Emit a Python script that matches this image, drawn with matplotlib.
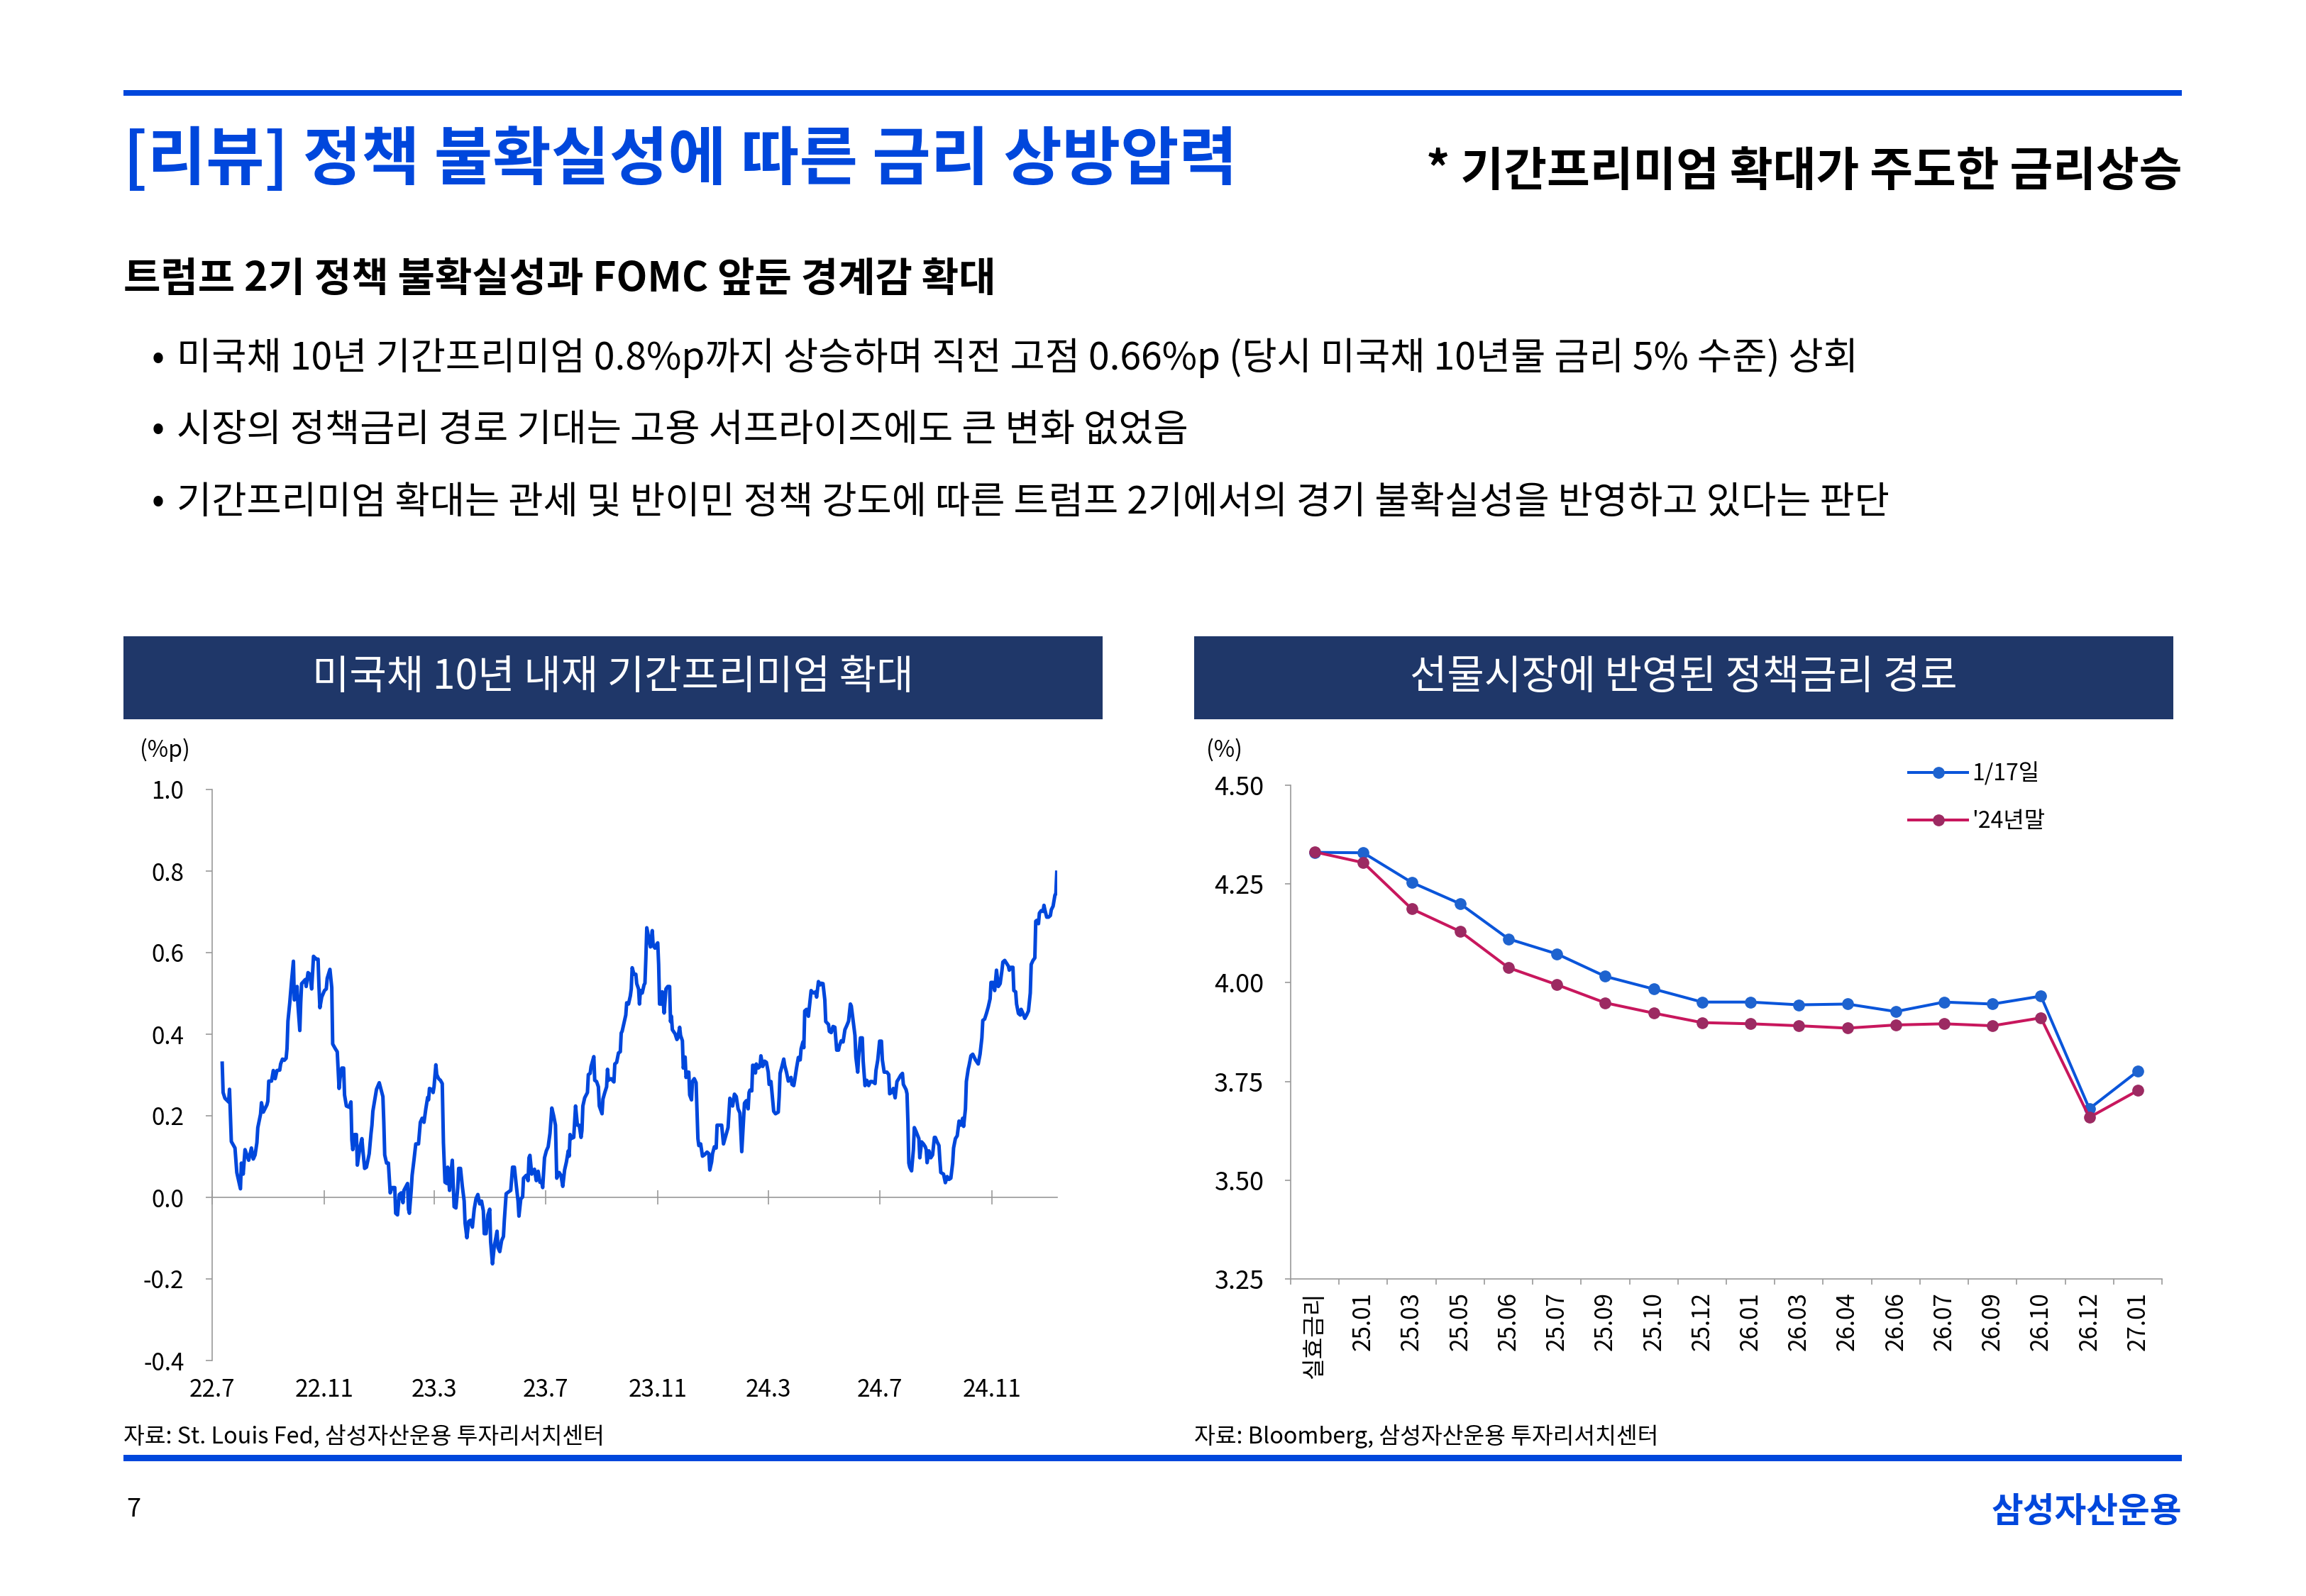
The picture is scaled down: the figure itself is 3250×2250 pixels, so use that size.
import numpy as np
import matplotlib
matplotlib.use("Agg")
import matplotlib.pyplot as plt
import matplotlib.dates as mdates
from matplotlib.patches import Rectangle
from matplotlib.ticker import FixedLocator, FuncFormatter, NullFormatter

plt.rcParams['font.family'] = ['Noto Sans CJK KR', 'DejaVu Sans']

# ---- data: 10y term premium (%p), x = days since 2022-07-01
tp_start = np.datetime64('2022-07-01')
tp_day = [11, 12, 14, 18, 19, 21, 25, 27, 31, 32, 34, 36, 40, 43, 45, 47, 49, 50, 53, 54,
          56, 60, 61, 62, 65, 67, 69, 71, 74, 75, 77, 79, 81, 82, 83, 85, 87, 89, 90, 91,
          93, 94, 96, 97, 98, 102, 103, 105, 107, 109, 111, 114, 116, 117, 118, 120, 123, 125, 126, 129,
          131, 132, 135, 137, 139, 140, 142, 144, 145, 147, 150, 152, 153, 154, 156, 158, 159, 162, 164, 165,
          167, 169, 172, 174, 175, 176, 180, 183,
          187, 188, 189, 191, 193, 195, 197, 200, 201, 203, 205, 207, 209, 210, 214, 215, 216, 218, 219, 221,
          223, 226, 228, 230, 232, 234, 236, 237, 238, 241, 242, 243, 245, 246, 248, 250, 252, 252.6, 253.3, 255,
          257, 258, 260, 261, 263, 265, 267, 269, 270, 272, 274, 276, 277, 279, 281, 283, 285, 287, 289, 291,
          293, 295, 297, 298, 300, 302, 304, 305, 307, 309, 311, 312, 313, 315, 317, 319, 320, 322, 325, 327,
          329, 331, 333, 335, 336, 338, 340, 341, 344, 346, 347, 348, 350, 353, 355, 357, 359, 361, 362, 364,
          366, 368, 370, 372, 374, 376, 377.4,
          380, 382, 384, 386, 388, 390, 391, 392, 393, 396, 397, 398, 400, 402, 404, 405, 406, 408, 411, 412,
          414, 415, 418, 419, 421, 423, 424, 427, 428, 430, 432, 433, 434, 437, 440, 441, 443, 445, 447, 448,
          449, 451, 453, 454, 456, 458, 459, 460, 462, 464, 465, 467, 468, 469, 471, 473, 474, 475, 476, 478,
          480, 482, 483, 485, 487, 488, 489, 490, 492, 493, 495, 497, 499, 501, 502, 503, 504, 507, 509, 510,
          512, 513, 515, 516, 518, 519, 521, 522, 523, 525, 526, 528, 530, 531, 532, 533, 535, 537, 539, 542,
          544, 545, 547, 548, 550, 552, 553, 555, 558,
          560, 565, 567, 569, 570, 572, 574, 576, 578, 580, 583, 585, 587, 588, 589, 591, 592, 594, 595, 596,
          598, 600, 601, 603, 605, 607, 609, 610, 612, 614, 615, 617, 620, 621, 622, 624, 626, 627, 629, 631,
          633, 634, 635, 637, 638, 640, 642, 644, 645, 647, 648, 649, 651, 653, 655, 656, 657, 659, 661, 662,
          664, 666, 667, 669, 671, 672, 675, 676, 678, 680, 682, 684, 686, 687, 689, 691, 693, 695, 697, 699,
          700, 701, 704, 705, 707, 708, 710, 712, 713, 715, 717, 719, 721, 723, 726, 727, 729, 731, 733, 734,
          736, 739, 741, 742, 744, 746, 748, 750,
          752, 754, 756, 757, 760, 761, 762, 763, 764, 766, 768, 769, 771, 774, 775, 777, 779, 781, 782, 783,
          785, 787, 789, 791, 792, 794, 796, 797, 798, 801, 803, 805, 807, 809, 811, 812, 814, 816, 818, 820,
          822, 823, 825, 826, 828, 829, 831, 833, 836, 839, 841, 843, 844, 846, 848, 850, 852, 853, 855, 857,
          859, 861, 863, 865, 866, 868, 870, 872, 873, 875, 877, 878, 880, 881, 883, 885, 886, 888, 890, 892,
          894, 896, 897, 899, 901, 902, 903, 905, 906, 908, 910, 911, 912, 914, 916, 918, 919, 921, 923, 924,
          925]
tp_val = [.329, .257, .243, .234, .265, .137, .121, .061, .021, .084, .057, .117, .091, .121, .094, .104, .134, .171, .204, .232,
          .209, .227, .236, .285, .285, .311, .291, .311, .312, .327, .339, .336, .341, .365, .432, .477, .531, .579, .484, .487,
          .517, .471, .409, .477, .524, .534, .517, .551, .547, .511, .591, .584, .584, .517, .465, .491, .507, .511, .537, .559,
          .514, .376, .364, .357, .267, .291, .317, .317, .251, .224, .221, .234, .141, .117, .154, .154, .079, .124, .144, .117,
          .071, .074, .107, .157, .177, .211, .265, .281,
          .247, .184, .104, .084, .084, .011, .024, .024, -.039, -.043, .007, .011, -.013, .017, .034, -.029, -.039, .017, .054, .091,
          .131, .131, .184, .194, .184, .217, .245, .239, .267, .264, .257, .271, .325, .301, .291, .287, .279, .211, .134, .037,
          .034, .074, .017, .047, .091, -.023, -.026, .024, .071, .071, .027, -.009, -.063, -.099, -.059, -.056, -.073, -.029, -.003, .007,
          -.016, -.009, -.033, -.089, -.089, -.043, -.029, -.109, -.163, -.119, -.096, -.083, -.123, -.133, -.106, -.096, -.056, .009, .014, .017,
          .074, .074, .031, -.009, -.046, -.004, .001, .047, .054, .041, .097, .103, .057, .069, .041, .064, .037, .037, .024, .097,
          .114, .124, .157, .219, .200, .177, .047,
          .061, .054, .027, .067, .087, .114, .101, .154, .144, .147, .184, .224, .177, .177, .147, .164, .224, .244, .257, .301,
          .304, .321, .345, .287, .284, .271, .224, .205, .241, .257, .271, .314, .287, .291, .283, .327, .331, .354, .357, .403,
          .407, .427, .447, .477, .474, .494, .511, .563, .547, .547, .524, .511, .474, .507, .501, .521, .525, .587, .661, .637,
          .614, .654, .617, .611, .621, .624, .571, .474, .474, .504, .452, .511, .517, .517, .431, .444, .411, .401, .387, .391,
          .417, .397, .384, .317, .344, .294, .307, .307, .251, .239, .284, .291, .281, .211, .144, .127, .131, .101, .104, .111,
          .107, .067, .087, .107, .124, .121, .177, .177, .177,
          .131, .171, .243, .231, .224, .253, .247, .217, .207, .112, .231, .237, .217, .257, .263, .261, .324, .323, .305, .327,
          .317, .321, .347, .321, .334, .331, .307, .277, .284, .234, .211, .205, .209, .247, .304, .321, .339, .324, .307, .285,
          .291, .294, .277, .274, .287, .317, .343, .337, .364, .381, .367, .457, .461, .444, .487, .507, .504, .501, .504, .491,
          .529, .521, .525, .524, .484, .431, .424, .407, .404, .419, .417, .361, .361, .372, .384, .381, .411, .421, .432, .474,
          .469, .451, .397, .344, .307, .344, .391, .391, .334, .274, .287, .274, .284, .284, .279, .311, .337, .383, .383, .337,
          .307, .307, .301, .254, .257, .267, .244, .284,
          .291, .299, .304, .277, .264, .254, .184, .084, .074, .065, .117, .171, .161, .144, .097, .136, .131, .124, .117, .085,
          .114, .097, .104, .147, .147, .136, .127, .091, .061, .057, .036, .051, .044, .047, .084, .121, .144, .151, .187, .177,
          .194, .174, .217, .284, .314, .324, .347, .351, .337, .327, .351, .391, .434, .437, .451, .467, .487, .527, .527, .507,
          .557, .517, .524, .557, .577, .581, .574, .567, .557, .564, .564, .507, .504, .474, .451, .447, .461, .451, .439, .447,
          .457, .501, .571, .581, .587, .677, .679, .671, .697, .703, .701, .716, .705, .687, .687, .691, .705, .714, .741, .744,
          .797]
tp_xmax_day = 925.5
tp_yticks = [-0.4, -0.2, 0.0, 0.2, 0.4, 0.6, 0.8, 1.0]

# ---- data: policy rate path implied by futures (%)
path_labels = ['실효금리', '25.01', '25.03', '25.05', '25.06', '25.07', '25.09', '25.10', '25.12',
               '26.01', '26.03', '26.04', '26.06', '26.07', '26.09', '26.10', '26.12', '27.01']
path_jan17 = [4.330, 4.329, 4.254, 4.200, 4.111, 4.073, 4.016, 3.984, 3.951,
              3.951, 3.944, 3.946, 3.927, 3.951, 3.946, 3.966, 3.681, 3.776]
path_ye24 = [4.331, 4.304, 4.187, 4.130, 4.038, 3.995, 3.949, 3.923, 3.899,
             3.896, 3.891, 3.885, 3.893, 3.896, 3.891, 3.911, 3.659, 3.727]
path_yticks = [3.25, 3.50, 3.75, 4.00, 4.25, 4.50]
series_names = ['1/17일', "'24년말"]

BLUE = '#0047DC'
NAVY = '#1F3769'
GRAY = '#9A9A9A'

W, H = 3250, 2250
fig = plt.figure(figsize=(W / 100, H / 100), dpi=100)


def fx(px):
    return px / W


def fy(py):
    return 1 - py / H


# header
fig.add_artist(Rectangle((fx(174), fy(135)), fx(3075 - 174), 8 / H,
                         transform=fig.transFigure, color=BLUE, lw=0))
fig.text(fx(174), fy(226), '[리뷰] 정책 불확실성에 따른 금리 상방압력', color=BLUE,
         fontsize=64.5, fontweight='bold', ha='left', va='center')
fig.text(fx(3075), fy(242), '* 기간프리미엄 확대가 주도한 금리상승', color='black',
         fontsize=47.5, fontweight='bold', ha='right', va='center')
fig.text(fx(174), fy(394), '트럼프 2기 정책 불확실성과 FOMC 앞둔 경계감 확대',
         fontsize=41, fontweight='bold', ha='left', va='center')
bullets = ['미국채 10년 기간프리미엄 0.8%p까지 상승하며 직전 고점 0.66%p (당시 미국채 10년물 금리 5% 수준) 상회',
           '시장의 정책금리 경로 기대는 고용 서프라이즈에도 큰 변화 없었음',
           '기간프리미엄 확대는 관세 및 반이민 정책 강도에 따른 트럼프 2기에서의 경기 불확실성을 반영하고 있다는 판단']
for yy, b in zip([505, 606, 708], bullets):
    fig.text(fx(214), fy(yy), '•', fontsize=38, ha='left', va='center')
    fig.text(fx(249), fy(yy), b, fontsize=38.5, ha='left', va='center')

# chart banners
for x0, title in [(174, '미국채 10년 내재 기간프리미엄 확대'), (1683, '선물시장에 반영된 정책금리 경로')]:
    fig.add_artist(Rectangle((fx(x0), fy(1014)), fx(1380), 117 / H,
                             transform=fig.transFigure, color=NAVY, lw=0))
    fig.text(fx(x0 + 690), fy(955), title, color='white', fontsize=41,
             ha='center', va='center')

# ---- left chart
ax1 = fig.add_axes([fx(299), fy(1918), fx(1490 - 299), (1918 - 1113) / H])
tp_dates = tp_start + np.array([np.timedelta64(int(round(d * 24)), 'h') for d in tp_day])
ax1.plot(tp_dates, tp_val, color=BLUE, lw=3.6, solid_joinstyle='round')
ax1.set_xlim(tp_start, tp_start + np.timedelta64(int(tp_xmax_day * 24), 'h'))
ax1.set_ylim(-0.4, 1.0)
ax1.set_yticks(tp_yticks)
ax1.yaxis.set_major_formatter(FuncFormatter(lambda v, p: f'{v:.1f}'))
loc = mdates.MonthLocator(bymonth=(3, 7, 11))
ax1.xaxis.set_major_locator(loc)
ax1.xaxis.set_major_formatter(FuncFormatter(
    lambda v, p: f'{mdates.num2date(v).year % 100}.{mdates.num2date(v).month}'))
for s in ['top', 'right', 'bottom']:
    ax1.spines[s].set_visible(False)
ax1.spines['left'].set_color(GRAY)
ax1.spines['left'].set_linewidth(1.2)
ax1.tick_params(axis='y', direction='out', length=6.5, width=1.2, color=GRAY,
                labelsize=24, pad=22)
ax1.tick_params(axis='x', length=0, labelsize=24, pad=17)
zero = ax1.secondary_xaxis(0.4 / 1.4)
zero.set_xticks(ax1.get_xticks())
zero.tick_params(axis='x', direction='inout', length=14, width=1.2, color=GRAY,
                 labelbottom=False, labeltop=False)
zero.spines['bottom'].set_color(GRAY)
zero.spines['bottom'].set_linewidth(1.2)
fig.text(fx(197), fy(1057), '(%p)', fontsize=23, ha='left', va='center')

# ---- right chart
ax2 = fig.add_axes([fx(1819), fy(1803), fx(3047 - 1819), (1803 - 1107) / H])
xi = np.arange(len(path_labels))
ax2.plot(xi, path_jan17, color='#0A55DA', lw=2.9, marker='o', markersize=11,
         markerfacecolor='#1E63CF', markeredgecolor='#1E63CF', label=series_names[0])
ax2.plot(xi, path_ye24, color='#C8175D', lw=2.9, marker='o', markersize=11,
         markerfacecolor='#9C2A62', markeredgecolor='#9C2A62', label=series_names[1])
ax2.set_xlim(-0.5, len(path_labels) - 0.5)
ax2.set_ylim(3.25, 4.50)
ax2.set_yticks(path_yticks)
ax2.yaxis.set_major_formatter(FuncFormatter(lambda v, p: f'{v:.2f}'))
ax2.xaxis.set_major_locator(FixedLocator(np.arange(len(path_labels) + 1) - 0.5))
ax2.xaxis.set_major_formatter(NullFormatter())
ax2.xaxis.set_minor_locator(FixedLocator(xi))
ax2.set_xticklabels(path_labels, minor=True, rotation=90)
ax2.tick_params(axis='x', which='major', direction='out', length=6, width=1.2, color=GRAY)
ax2.tick_params(axis='x', which='minor', length=0, labelsize=24, pad=13)
ax2.tick_params(axis='y', direction='out', length=6, width=1.2, color=GRAY,
                labelsize=26, pad=21)
for s in ['top', 'right']:
    ax2.spines[s].set_visible(False)
for s in ['left', 'bottom']:
    ax2.spines[s].set_color(GRAY)
    ax2.spines[s].set_linewidth(1.2)
ax2.legend(loc='upper left', bbox_to_anchor=(fx(2690), fy(1074)),
           bbox_transform=fig.transFigure, frameon=False, fontsize=23,
           handlelength=2.6, handletextpad=0.2, borderpad=0, borderaxespad=0,
           labelspacing=1.1)
fig.text(fx(1700), fy(1057), '(%)', fontsize=23, ha='left', va='center')

# footer
fig.text(fx(174), fy(2025), '자료: St. Louis Fed, 삼성자산운용 투자리서치센터',
         fontsize=23.3, ha='left', va='center')
fig.text(fx(1683), fy(2025), '자료: Bloomberg, 삼성자산운용 투자리서치센터',
         fontsize=23.3, ha='left', va='center')
fig.add_artist(Rectangle((fx(174), fy(2060)), fx(3075 - 174), 9 / H,
                         transform=fig.transFigure, color=BLUE, lw=0))
fig.text(fx(178), fy(2128), '7', fontsize=26, ha='left', va='center')
fig.text(fx(3075), fy(2131), '삼성자산운용', color=BLUE, fontsize=35,
         fontweight='bold', ha='right', va='center')

fig.savefig('out.png', dpi=100, facecolor='white')
